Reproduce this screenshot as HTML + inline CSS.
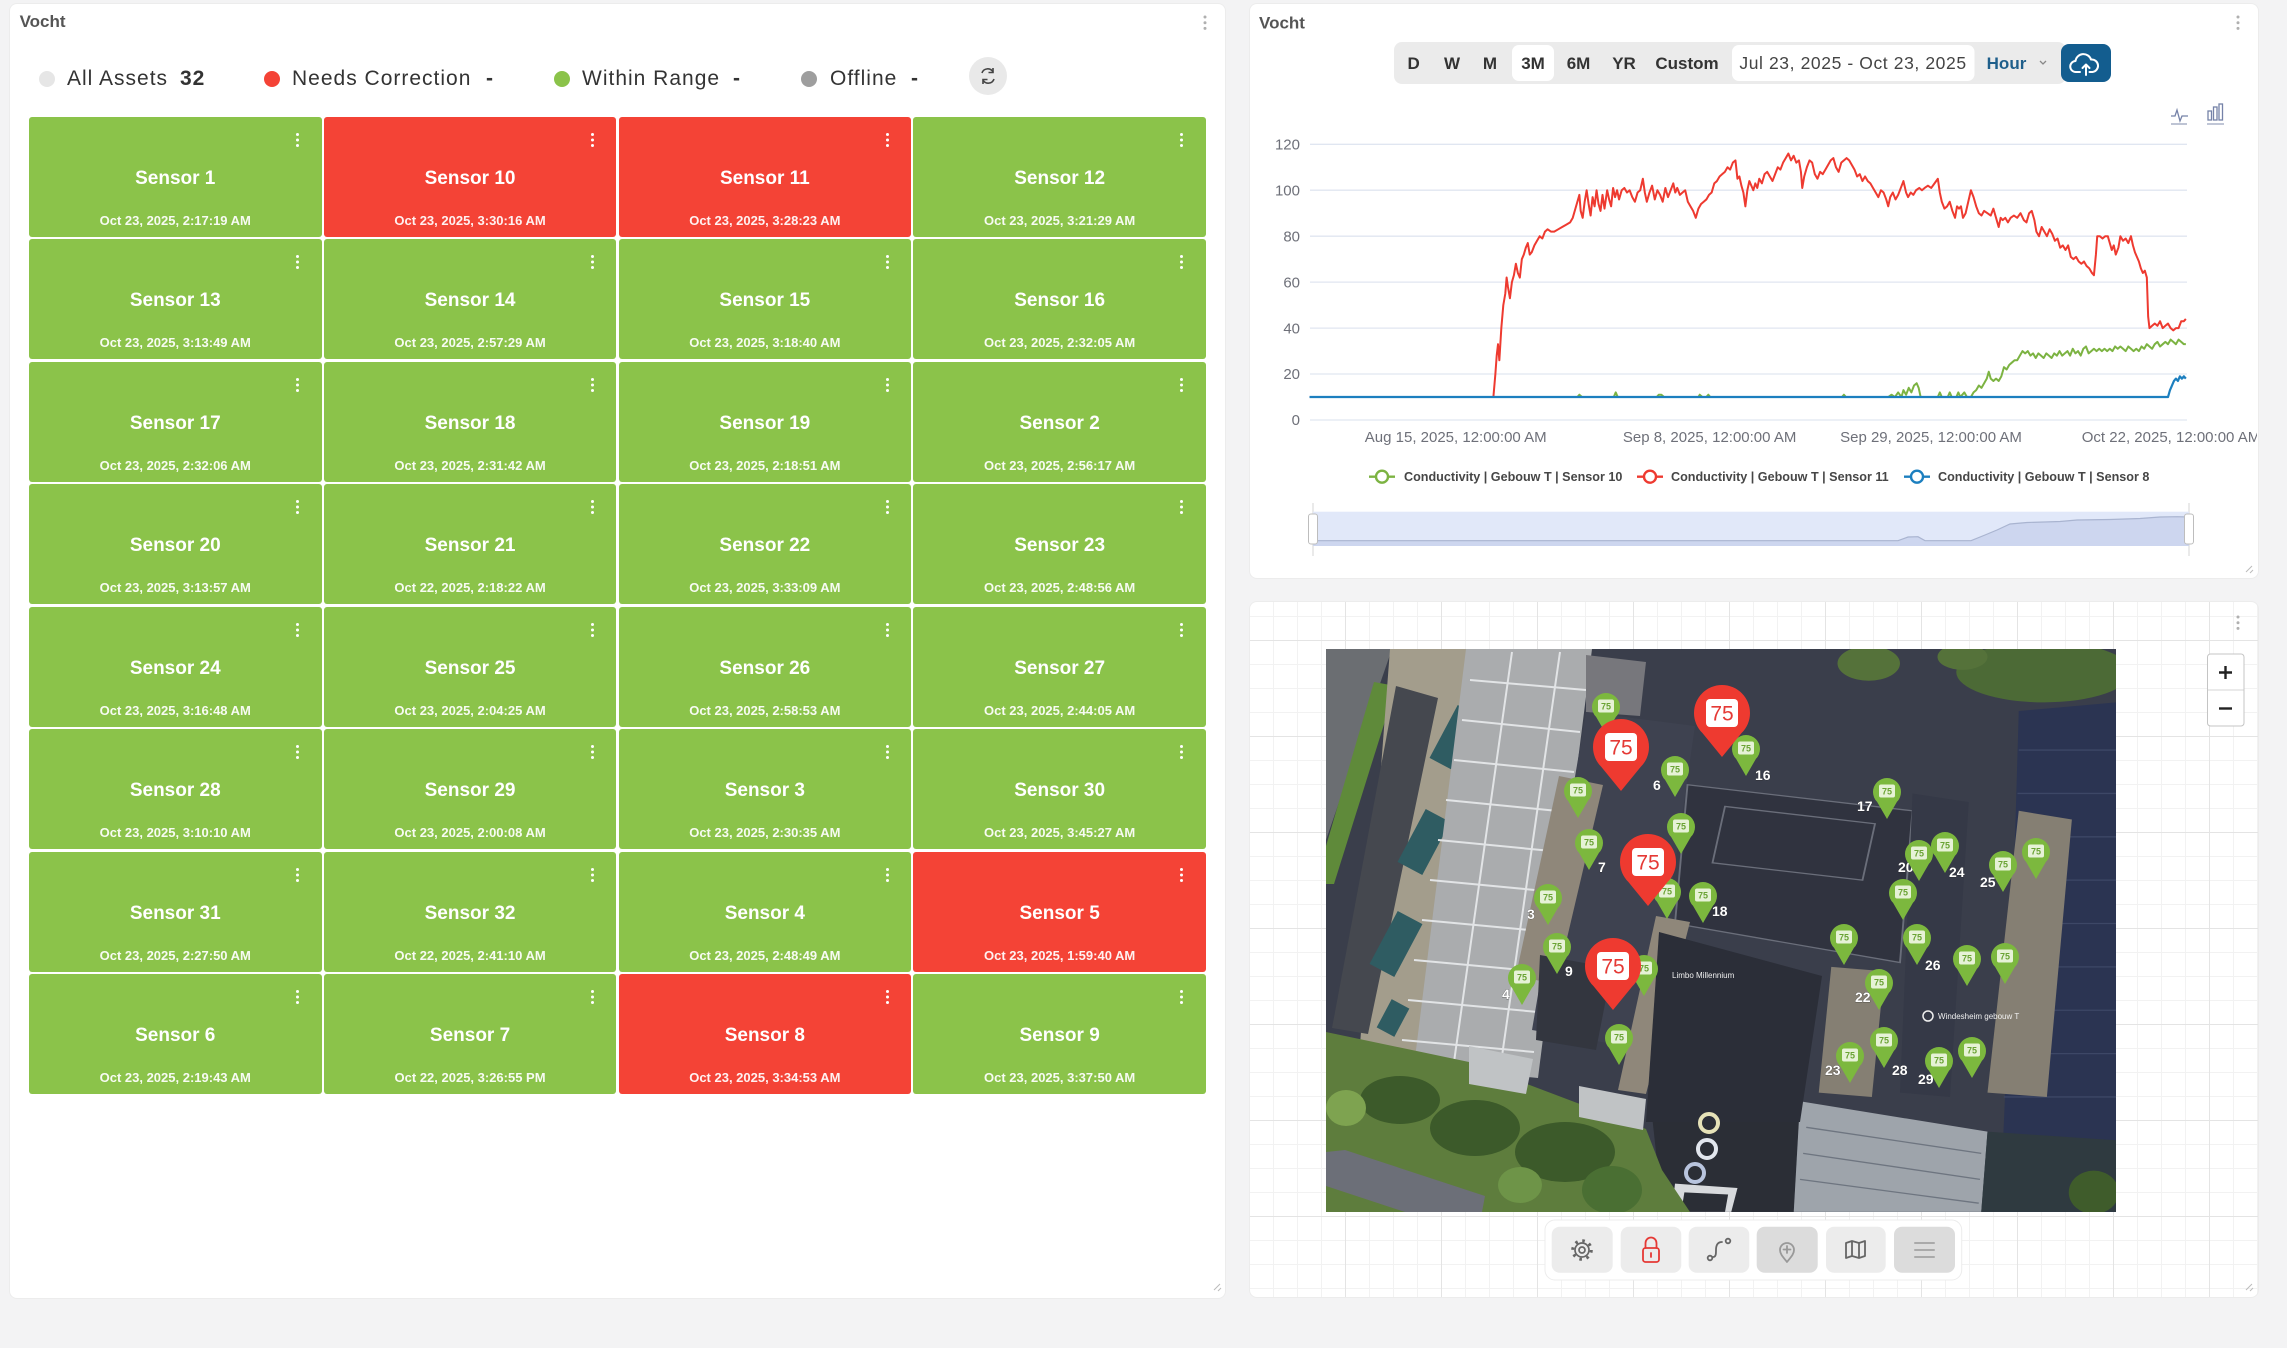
<!DOCTYPE html>
<html>
<head>
<meta charset="utf-8">
<style>
  html,body{margin:0;padding:0}
  body{width:2287px;height:1348px;background:#f3f3f4;position:relative;overflow:hidden;font-family:"Liberation Sans",sans-serif}
  .panel{position:absolute;background:#fff;border-radius:7px;box-shadow:0 0 0 1px #ececec}
  .grid{position:absolute;left:29px;top:116.7px;display:grid;grid-template-columns:repeat(4,292.5px);grid-auto-rows:120px;column-gap:2.3px;row-gap:2.5px}
  .t{position:relative;height:120px;border-radius:3px;background:#8bc34a;color:#fff}
  .t.r{background:#f44336}
  .t b{position:absolute;left:0;right:0;top:51px;text-align:center;font-size:19px;line-height:22px;font-weight:bold}
  .t i{position:absolute;left:0;right:0;top:96px;text-align:center;font-size:13px;font-style:normal;font-weight:bold;line-height:16px;color:rgba(255,255,255,0.93)}
  .t s{position:absolute;right:22.5px;top:16.3px;width:3px;height:3px;border-radius:50%;background:#fff;box-shadow:0 5.5px 0 #fff,0 11px 0 #fff}
  .lg{position:absolute;top:64px;line-height:30px;font-size:21px;letter-spacing:1px;color:#333;white-space:nowrap}
  .dot{position:absolute;top:71px;width:16px;height:16px;border-radius:50%}
</style>
</head>
<body>

<!-- LEFT PANEL -->
<div class="panel" style="left:10px;top:4px;width:1215px;height:1294px"></div>
<div style="position:absolute;left:19.6px;top:11px;font-size:17px;font-weight:bold;color:#555;line-height:22px">Vocht</div>

<div class="dot" style="left:39px;background:#e6e6e6"></div>
<div class="lg" style="left:67px">All Assets</div>
<div class="lg" style="left:180px;font-weight:bold">32</div>
<div class="dot" style="left:264px;background:#f44336"></div>
<div class="lg" style="left:292px">Needs Correction</div>
<div class="lg" style="left:486px;font-weight:bold">-</div>
<div class="dot" style="left:554px;background:#8bc34a"></div>
<div class="lg" style="left:582px">Within Range</div>
<div class="lg" style="left:733px;font-weight:bold">-</div>
<div class="dot" style="left:801px;background:#9e9e9e"></div>
<div class="lg" style="left:830px">Offline</div>
<div class="lg" style="left:911px;font-weight:bold">-</div>
<div style="position:absolute;left:969px;top:57px;width:38px;height:38px;border-radius:50%;background:#e9e9e9"></div>

<div class="grid">
<div class="t"><s></s><b>Sensor 1</b><i>Oct 23, 2025, 2:17:19 AM</i></div>
<div class="t r"><s></s><b>Sensor 10</b><i>Oct 23, 2025, 3:30:16 AM</i></div>
<div class="t r"><s></s><b>Sensor 11</b><i>Oct 23, 2025, 3:28:23 AM</i></div>
<div class="t"><s></s><b>Sensor 12</b><i>Oct 23, 2025, 3:21:29 AM</i></div>
<div class="t"><s></s><b>Sensor 13</b><i>Oct 23, 2025, 3:13:49 AM</i></div>
<div class="t"><s></s><b>Sensor 14</b><i>Oct 23, 2025, 2:57:29 AM</i></div>
<div class="t"><s></s><b>Sensor 15</b><i>Oct 23, 2025, 3:18:40 AM</i></div>
<div class="t"><s></s><b>Sensor 16</b><i>Oct 23, 2025, 2:32:05 AM</i></div>
<div class="t"><s></s><b>Sensor 17</b><i>Oct 23, 2025, 2:32:06 AM</i></div>
<div class="t"><s></s><b>Sensor 18</b><i>Oct 23, 2025, 2:31:42 AM</i></div>
<div class="t"><s></s><b>Sensor 19</b><i>Oct 23, 2025, 2:18:51 AM</i></div>
<div class="t"><s></s><b>Sensor 2</b><i>Oct 23, 2025, 2:56:17 AM</i></div>
<div class="t"><s></s><b>Sensor 20</b><i>Oct 23, 2025, 3:13:57 AM</i></div>
<div class="t"><s></s><b>Sensor 21</b><i>Oct 22, 2025, 2:18:22 AM</i></div>
<div class="t"><s></s><b>Sensor 22</b><i>Oct 23, 2025, 3:33:09 AM</i></div>
<div class="t"><s></s><b>Sensor 23</b><i>Oct 23, 2025, 2:48:56 AM</i></div>
<div class="t"><s></s><b>Sensor 24</b><i>Oct 23, 2025, 3:16:48 AM</i></div>
<div class="t"><s></s><b>Sensor 25</b><i>Oct 23, 2025, 2:04:25 AM</i></div>
<div class="t"><s></s><b>Sensor 26</b><i>Oct 23, 2025, 2:58:53 AM</i></div>
<div class="t"><s></s><b>Sensor 27</b><i>Oct 23, 2025, 2:44:05 AM</i></div>
<div class="t"><s></s><b>Sensor 28</b><i>Oct 23, 2025, 3:10:10 AM</i></div>
<div class="t"><s></s><b>Sensor 29</b><i>Oct 23, 2025, 2:00:08 AM</i></div>
<div class="t"><s></s><b>Sensor 3</b><i>Oct 23, 2025, 2:30:35 AM</i></div>
<div class="t"><s></s><b>Sensor 30</b><i>Oct 23, 2025, 3:45:27 AM</i></div>
<div class="t"><s></s><b>Sensor 31</b><i>Oct 23, 2025, 2:27:50 AM</i></div>
<div class="t"><s></s><b>Sensor 32</b><i>Oct 22, 2025, 2:41:10 AM</i></div>
<div class="t"><s></s><b>Sensor 4</b><i>Oct 23, 2025, 2:48:49 AM</i></div>
<div class="t r"><s></s><b>Sensor 5</b><i>Oct 23, 2025, 1:59:40 AM</i></div>
<div class="t"><s></s><b>Sensor 6</b><i>Oct 23, 2025, 2:19:43 AM</i></div>
<div class="t"><s></s><b>Sensor 7</b><i>Oct 22, 2025, 3:26:55 PM</i></div>
<div class="t r"><s></s><b>Sensor 8</b><i>Oct 23, 2025, 3:34:53 AM</i></div>
<div class="t"><s></s><b>Sensor 9</b><i>Oct 23, 2025, 3:37:50 AM</i></div>
</div>

<!-- RIGHT PANELS -->
<div class="panel" style="left:1250px;top:4px;width:1008px;height:574px"></div>
<div class="panel" style="left:1250px;top:602px;width:1008px;height:695px;
  background-color:#fff;
  background-image:
    linear-gradient(to right,#e4e4e4 1px,transparent 1px),
    linear-gradient(to bottom,#e4e4e4 1px,transparent 1px),
    linear-gradient(to right,#f2f2f2 1px,transparent 1px),
    linear-gradient(to bottom,#f2f2f2 1px,transparent 1px);
  background-size:96px 96px,96px 96px,24px 24px,24px 24px;
  background-position:95px 0,0 38px,23px 0,0 14px"></div>

<svg style="position:absolute;left:0;top:0" width="2287" height="1348" viewBox="0 0 2287 1348">
  <defs>
    <clipPath id="pclip"><rect x="1250" y="4" width="1007" height="574"/></clipPath>
    <clipPath id="mclip"><rect x="1326" y="649" width="790" height="563"/></clipPath>
    <path id="gp" d="M0,27 L-9.9,9.9 A14,14 0 1 1 9.9,9.9 Z"/>
    <path id="rp" d="M0,44 L-19.8,19.8 A28,28 0 1 1 19.8,19.8 Z"/>
  </defs>

  <!-- refresh icon (left panel) -->
  <g fill="none" stroke="#444" stroke-width="1.6">
    <path d="M982,73 a6,6 0 0 1 11,-1"/>
    <path d="M994,79 a6,6 0 0 1 -11,1"/>
    <path d="M993,68 v4.5 h-4.5" />
    <path d="M983,84 v-4.5 h4.5" />
  </g>
  <g fill="#b0b0b0"><circle cx="1205" cy="17" r="1.5"/><circle cx="1205" cy="22.7" r="1.5"/><circle cx="1205" cy="28.4" r="1.5"/></g>
  <path d="M1214,1290 l6,-6 M1218,1291 l3,-3" stroke="#bbb" stroke-width="1"/>

  <!-- ============ CHART PANEL ============ -->
  <text x="1259" y="28.5" font-size="17" font-weight="bold" fill="#555">Vocht</text>
  <g fill="#b0b0b0"><circle cx="2238" cy="17" r="1.5"/><circle cx="2238" cy="22.7" r="1.5"/><circle cx="2238" cy="28.4" r="1.5"/></g>

  <rect x="1394" y="42" width="672" height="42" rx="8" fill="#ebebeb"/>
  <rect x="1512" y="45" width="42" height="36" rx="7" fill="#fff"/>
  <rect x="1732" y="45" width="242.5" height="36" rx="7" fill="#fff"/>
  <g font-size="17" font-weight="bold" fill="#333" text-anchor="middle">
    <text x="1413.6" y="69">D</text>
    <text x="1452" y="69">W</text>
    <text x="1490" y="69">M</text>
    <text x="1533" y="69">3M</text>
    <text x="1578.5" y="69">6M</text>
    <text x="1624" y="69">YR</text>
    <text x="1687" y="69">Custom</text>
    <text x="2006.5" y="69" fill="#1f5f8b">Hour</text>
  </g>
  <text x="1853" y="69" font-size="17.5" letter-spacing="0.6" fill="#444" text-anchor="middle">Jul 23, 2025 - Oct 23, 2025</text>
  <path d="M2040,61 l3,3 l3,-3" fill="none" stroke="#888" stroke-width="1.3"/>
  <rect x="2061" y="44" width="50" height="38" rx="8" fill="#135d8f"/>
  <g fill="none" stroke="#fff" stroke-width="2" stroke-linecap="round" stroke-linejoin="round">
    <path d="M2080,72 h-4 a5.5,5.5 0 0 1 -0.5,-11 a8,8 0 0 1 15.5,-1.5 a5.5,5.5 0 0 1 1.5,12.5 h-3"/>
    <path d="M2086,75 v-10 M2082.5,68 l3.5,-3.5 l3.5,3.5"/>
  </g>

  <g fill="none" stroke="#7582a8" stroke-width="1.3">
    <path d="M2171,116 h4 l2,-6 l3,11 l2,-5 h6"/>
    <path d="M2171,124 h16" stroke="#9aa3bd"/>
    <rect x="2208" y="111" width="3.5" height="9"/>
    <rect x="2213.5" y="107" width="3.5" height="13"/>
    <rect x="2219" y="104" width="3.5" height="16"/>
    <path d="M2207,124 h17" stroke="#9aa3bd"/>
  </g>

  <g stroke="#e0e6f1" stroke-width="1.3">
    <line x1="1310" y1="144.3" x2="2187" y2="144.3"/>
    <line x1="1310" y1="190.2" x2="2187" y2="190.2"/>
    <line x1="1310" y1="236.2" x2="2187" y2="236.2"/>
    <line x1="1310" y1="282.1" x2="2187" y2="282.1"/>
    <line x1="1310" y1="328.1" x2="2187" y2="328.1"/>
    <line x1="1310" y1="374" x2="2187" y2="374"/>
    <line x1="1310" y1="420" x2="2187" y2="420"/>
  </g>
  <g font-size="15" fill="#6e7079" text-anchor="end">
    <text x="1300" y="149.5">120</text>
    <text x="1300" y="195.4">100</text>
    <text x="1300" y="241.4">80</text>
    <text x="1300" y="287.3">60</text>
    <text x="1300" y="333.3">40</text>
    <text x="1300" y="379.2">20</text>
    <text x="1300" y="425.2">0</text>
  </g>
  <g clip-path="url(#pclip)" font-size="15" fill="#6e7079" text-anchor="middle">
    <text x="1455.7" y="442">Aug 15, 2025, 12:00:00 AM</text>
    <text x="1709.6" y="442">Sep 8, 2025, 12:00:00 AM</text>
    <text x="1931" y="442">Sep 29, 2025, 12:00:00 AM</text>
    <text x="2171" y="442">Oct 22, 2025, 12:00:00 AM</text>
  </g>

  <g transform="translate(1250,420) scale(0.66138,-2.2975)" fill="none" stroke-linejoin="round">
    <polyline vector-effect="non-scaling-stroke" stroke="#7cb342" stroke-width="2" points="90,10 495,10 498,11 502,10 550,10 553,12 556,10 615,10 618,11 622,11 626,10 678,10 680,11 684,10 690,10 693,11 696,10 895,10 898,11 901,10 965,10 970,11 975,10 980,12 985,10 988,13 992,11 996,14 1000,12 1004,15 1008,16 1011,14 1014,10 1040,10 1043,12 1046,10 1055,10 1058,12 1061,10 1068,10 1071,12 1074,10 1080,12 1084,10 1090,10 1094,12 1098,13 1102,15 1106,14 1110,16 1114,18 1117,21 1120,18 1124,17 1128,18 1132,17 1136,19 1140,23 1144,22 1148,24 1152,25 1156,26 1160,26 1164,28 1168,30 1172,29 1176,30 1180,28 1184,29 1188,27 1192,29 1196,28 1200,27 1204,29 1208,28 1212,27 1216,29 1220,28 1224,30 1228,28 1232,29 1236,30 1240,28 1244,31 1248,29 1252,30 1256,28 1260,31 1264,32 1268,29 1272,30 1276,31 1280,30 1284,31 1288,30 1292,31 1296,30 1300,31 1304,30 1308,32 1312,31 1316,32 1320,31 1324,30 1328,32 1332,31 1336,30 1340,31 1344,30 1348,32 1352,31 1356,33 1360,32 1364,31 1368,33 1372,34 1376,32 1380,33 1384,34 1388,33 1392,35 1396,34 1400,33 1404,35 1408,34 1412,33 1415,33"/>
    <polyline vector-effect="non-scaling-stroke" stroke="#ee3a30" stroke-width="2" points="90,10 368,10 371,20 373,28 375,33 377,26 380,40 383,50 386,55 388,62 390,58 393,53 396,60 399,63 402,68 405,64 408,62 411,70 414,72 417,75 420,77 423,72 426,73 430,76 434,78 438,80 442,79 446,82 450,83 455,82 460,82 466,83 472,84 478,85 484,86 488,88 492,92 495,95 498,98 500,91 503,88 506,95 509,100 512,94 515,89 518,97 521,93 524,100 527,94 530,91 533,98 536,92 540,100 543,96 546,93 549,101 552,97 555,100 558,96 562,100 566,101 570,99 574,100 578,97 582,95 586,99 590,100 594,105 597,99 600,95 604,99 608,102 612,96 616,100 620,98 624,95 628,101 632,97 636,100 640,103 643,99 646,101 650,98 654,99 658,100 662,95 666,93 670,91 674,88 678,92 682,94 686,95 690,96 694,98 698,99 702,103 706,104 710,106 714,107 718,108 722,110 726,109 730,112 734,113 737,105 740,106 743,102 746,99 749,93 752,100 755,104 758,102 761,100 764,103 767,101 770,105 774,103 778,107 782,108 786,106 790,104 794,107 798,110 802,109 806,112 810,114 814,116 818,113 822,115 826,112 830,113 833,108 835,101 838,106 842,110 846,113 850,112 854,107 858,105 862,108 866,107 870,109 874,111 878,113 882,114 886,110 890,108 894,112 898,113 902,114 906,113 910,111 914,109 918,106 922,107 926,104 930,106 934,104 938,103 942,101 946,99 950,97 954,100 958,99 962,96 965,93 968,97 972,99 976,96 980,98 984,101 988,104 992,99 995,97 999,99 1003,98 1007,100 1012,101 1016,100 1020,101 1025,102 1030,101 1035,103 1040,105 1043,99 1046,95 1050,92 1054,93 1058,95 1062,91 1066,88 1069,93 1072,92 1075,93 1078,88 1082,90 1086,95 1090,100 1094,97 1098,93 1102,90 1106,89 1110,91 1115,90 1120,89 1124,92 1128,88 1132,84 1135,88 1138,87 1142,88 1146,86 1150,88 1155,89 1160,88 1165,90 1170,87 1174,86 1178,90 1182,91 1186,87 1189,82 1193,80 1197,84 1201,82 1205,80 1209,83 1213,81 1217,78 1221,79 1225,75 1229,76 1233,74 1237,76 1241,71 1245,70 1249,71 1253,69 1257,68 1261,69 1265,67 1269,66 1273,64 1276,63 1279,72 1281,80 1285,80 1289,79 1293,80 1297,80 1300,77 1303,74 1306,76 1309,72 1313,75 1316,80 1320,78 1324,79 1328,77 1332,80 1335,76 1338,73 1341,71 1344,69 1347,66 1350,64 1353,65 1356,62 1358,45 1360,40 1364,41 1368,42 1372,41 1376,43 1380,40 1384,41 1388,42 1392,40 1396,39 1400,40 1404,40 1408,43 1412,43 1415,44"/>
    <polyline vector-effect="non-scaling-stroke" stroke="#1c7fbf" stroke-width="2.2" points="90,10 1388,10 1391,13 1394,15 1397,17 1400,18 1403,17 1406,19 1409,18 1412,19 1415,18"/>
  </g>

  <g stroke-width="2.4" fill="#fff">
    <line x1="1369" y1="476.7" x2="1395" y2="476.7" stroke="#7cb342"/>
    <circle cx="1382" cy="476.7" r="6" stroke="#7cb342"/>
    <line x1="1637" y1="476.7" x2="1663" y2="476.7" stroke="#ee3a30"/>
    <circle cx="1650" cy="476.7" r="6" stroke="#ee3a30"/>
    <line x1="1904" y1="476.7" x2="1930" y2="476.7" stroke="#1c7fbf"/>
    <circle cx="1917" cy="476.7" r="6" stroke="#1c7fbf"/>
  </g>
  <g font-size="12.6" font-weight="bold" fill="#464646">
    <text x="1404" y="481.2">Conductivity | Gebouw T | Sensor 10</text>
    <text x="1671" y="481.2">Conductivity | Gebouw T | Sensor 11</text>
    <text x="1938" y="481.2">Conductivity | Gebouw T | Sensor 8</text>
  </g>

  <line x1="1313" y1="503" x2="1313" y2="556" stroke="#d6d6d6"/>
  <line x1="2189" y1="503" x2="2189" y2="556" stroke="#d6d6d6"/>
  <rect x="1313" y="511.7" width="876" height="34.3" fill="#e1e8f9"/>
  <path d="M1313,540.7 L1898,540.7 L1908,537 L1918,536.7 L1925,540.7 L1971,540.7 L1985,535 L1997,530 L2010,524 L2027,522.5 L2060,521.5 L2077,520 L2110,519.5 L2140,518.5 L2160,517 L2177,516.7 L2189,517 L2189,546 L1313,546 Z" fill="#cdd6ef" stroke="none"/>
  <path d="M1313,540.7 L1898,540.7 L1908,537 L1918,536.7 L1925,540.7 L1971,540.7 L1985,535 L1997,530 L2010,524 L2027,522.5 L2060,521.5 L2077,520 L2110,519.5 L2140,518.5 L2160,517 L2177,516.7 L2189,517" fill="none" stroke="#a9b4d0" stroke-width="1.2"/>
  <rect x="1308.5" y="514" width="9" height="30" rx="2.5" fill="#fff" stroke="#bdbdbd"/>
  <rect x="2184.5" y="514" width="9" height="30" rx="2.5" fill="#fff" stroke="#bdbdbd"/>
  <path d="M2246,572 l6,-6 M2250,573 l3,-3" stroke="#bbb" stroke-width="1"/>

  <!-- ============ MAP PANEL ============ -->
  <g fill="#b0b0b0"><circle cx="2238" cy="617" r="1.5"/><circle cx="2238" cy="622.7" r="1.5"/><circle cx="2238" cy="628.4" r="1.5"/></g>
  <path d="M2246,1290 l6,-6 M2250,1291 l3,-3" stroke="#bbb" stroke-width="1"/>

  <g clip-path="url(#mclip)">
    <rect x="1326" y="649" width="790" height="563" fill="#3a3e4b"/>
    <!-- right half (zoom-space coordinates) -->
    <g transform="translate(1300,620) scale(0.625,0.4336)">
      <ellipse cx="910" cy="100" rx="50" ry="40" fill="#55723a"/>
      <ellipse cx="1190" cy="120" rx="140" ry="70" fill="#4c6a36"/>
      <ellipse cx="1060" cy="85" rx="40" ry="30" fill="#55723a"/>
      <polygon points="620,380 980,440 960,790 600,700" fill="#30333f"/>
      <g stroke="#6a6e7a" stroke-width="3" fill="none">
        <path d="M620,380 L980,440 L960,790 L600,700 Z"/>
        <path d="M680,430 L920,470 L900,600 L660,560 Z"/>
      </g>
      <polygon points="1150,210 1306,190 1306,1365 1120,1365 1140,700" fill="#2b3452"/>
      <g stroke="#3d4766" stroke-width="3">
        <path d="M1150,300 H1306 M1148,400 H1306 M1146,500 H1306 M1144,600 H1306 M1140,700 H1306 M1138,800 H1306 M1134,900 H1306 M1130,1000 H1306 M1126,1100 H1306"/>
      </g>
      <polygon points="1150,440 1235,460 1195,1100 1100,1090" fill="#857f73"/>
      <polygon points="980,400 1070,420 1040,1100 960,1090" fill="#353947"/>
      <polygon points="850,800 935,810 915,1100 830,1090" fill="#857f73"/>
      <polygon points="560,1100 800,1110 790,1365 580,1365" fill="#2b2e36"/>
      <polygon points="600,1300 700,1310 690,1365 595,1365" fill="#d8dadd"/>
      <polygon points="615,1320 685,1325 680,1365 610,1365" fill="#2b2e36"/>
      <polygon points="800,1110 1100,1180 1090,1365 790,1365" fill="#9ea4ab"/>
      <g stroke="#6e7580" stroke-width="3"><path d="M810,1170 L1090,1230 M805,1230 L1088,1290 M800,1290 L1086,1345"/></g>
      <polygon points="1100,1180 1306,1200 1306,1365 1090,1365" fill="#2f3a40"/>
      <ellipse cx="1270" cy="1320" rx="40" ry="50" fill="#3f5c2b"/>
    </g>

    <!-- left half (page coordinates) -->
    <polygon points="1326,649 1392,649 1326,840" fill="#6b6e72"/>
    <polygon points="1374,682 1396,686 1334,884 1326,884 1326,846" fill="#5f8a3a"/>
    <polygon points="1390,649 1530,649 1420,1060 1360,1045" fill="#a39d8c"/>
    <polygon points="1396,686 1438,698 1368,1034 1332,1028" fill="#45484f"/>
    <g fill="#2f5c62">
      <rect x="-14" y="-30" width="28" height="60" transform="translate(1456,738) rotate(28)"/>
      <rect x="-14" y="-30" width="28" height="60" transform="translate(1424,842) rotate(28)"/>
      <rect x="-14" y="-30" width="28" height="60" transform="translate(1396,944) rotate(28)"/>
      <rect x="-10" y="-16" width="20" height="32" transform="translate(1393,1018) rotate(28)"/>
    </g>
    <polygon points="1466,649 1592,649 1538,1078 1414,1066" fill="#aaacae"/>
    <g stroke="#e2e4e6" stroke-width="2" fill="none">
      <path d="M1470,680 L1586,690 M1462,720 L1580,732 M1454,760 L1574,772 M1446,800 L1568,812 M1438,840 L1562,852 M1430,880 L1556,892 M1422,920 L1550,932 M1414,960 L1544,972 M1408,1000 L1538,1012 M1402,1040 L1534,1052"/>
      <path d="M1512,652 L1454,1062 M1560,652 L1500,1070"/>
    </g>
    <polygon points="1586,655 1646,662 1640,716 1586,712" fill="#77777c"/>
    <polygon points="1586,712 1695,726 1648,1050 1532,1030" fill="#3e4250"/>
    <polygon points="1559,776 1603,785 1556,985 1516,975" fill="#8f877a"/>
    <polygon points="1656,916 1690,922 1646,1094 1618,1090" fill="#8f877a"/>
    <polygon points="1540,955 1612,968 1596,1050 1536,1040" fill="#33363f"/>
    <polygon points="1659,932 1822,976 1800,1122 1646,1122" fill="#2b2e38"/>
    <polygon points="1326,1032 1469,1062 1646,1129 1662,1170 1690,1212 1326,1212" fill="#5e7d3d"/>
    <polygon points="1469,1046 1533,1059 1526,1094 1469,1084" fill="#c0c3c5"/>
    <polygon points="1579,1086 1646,1099 1643,1130 1579,1117" fill="#c0c3c5"/>
    <polygon points="1326,1152 1345,1150 1485,1196 1482,1212 1405,1212 1326,1186" fill="#6c6f78"/>
    <ellipse cx="1400" cy="1100" rx="40" ry="24" fill="#3c5a2a"/>
    <ellipse cx="1475" cy="1128" rx="45" ry="28" fill="#3c5a2a"/>
    <ellipse cx="1565" cy="1152" rx="50" ry="30" fill="#3c5a2a"/>
    <ellipse cx="1612" cy="1190" rx="30" ry="24" fill="#4a6f33"/>
    <ellipse cx="1346" cy="1108" rx="20" ry="18" fill="#7ea350"/>
    <ellipse cx="1520" cy="1185" rx="22" ry="18" fill="#6e9448"/>

    <g fill="none" stroke-width="4">
      <circle cx="1709" cy="1123" r="9" stroke="#e6e2b8"/>
      <circle cx="1707" cy="1149" r="9" stroke="#e2e6ee"/>
      <circle cx="1695" cy="1173" r="9" stroke="#b8c4de"/>
    </g>
    <g font-size="8" fill="#f0f0f0">
      <text x="1672" y="978">Limbo Millennium</text>
      <circle cx="1928" cy="1016" r="5" fill="none" stroke="#eee" stroke-width="1.5"/>
      <text x="1938" y="1019">Windesheim gebouw T</text>
    </g>

    <g font-size="14" font-weight="bold" fill="#fff" stroke="#222" stroke-width="0.4" paint-order="stroke">
      <text x="1653" y="790">6</text><text x="1755" y="780">16</text><text x="1857" y="811">17</text>
      <text x="1598" y="872">7</text><text x="1712" y="916">18</text><text x="1527" y="919">3</text>
      <text x="1898" y="872">20</text><text x="1949" y="877">24</text><text x="1980" y="887">25</text>
      <text x="1925" y="970">26</text><text x="1565" y="976">9</text><text x="1502" y="999">4</text>
      <text x="1855" y="1002">22</text><text x="1825" y="1075">23</text><text x="1892" y="1075">28</text>
      <text x="1918" y="1084">29</text>
    </g>

    <g font-size="9" font-weight="bold" text-anchor="middle">
      <g transform="translate(1606,707)"><use href="#gp" fill="#7cb83e"/><rect x="-8" y="-7.5" width="16" height="13" rx="2" fill="#e6f2d6"/><text y="2.5" fill="#6aa334">75</text></g>
      <g transform="translate(1746,749)"><use href="#gp" fill="#7cb83e"/><rect x="-8" y="-7.5" width="16" height="13" rx="2" fill="#e6f2d6"/><text y="2.5" fill="#6aa334">75</text></g>
      <g transform="translate(1675,770)"><use href="#gp" fill="#7cb83e"/><rect x="-8" y="-7.5" width="16" height="13" rx="2" fill="#e6f2d6"/><text y="2.5" fill="#6aa334">75</text></g>
      <g transform="translate(1578,791)"><use href="#gp" fill="#7cb83e"/><rect x="-8" y="-7.5" width="16" height="13" rx="2" fill="#e6f2d6"/><text y="2.5" fill="#6aa334">75</text></g>
      <g transform="translate(1887,792)"><use href="#gp" fill="#7cb83e"/><rect x="-8" y="-7.5" width="16" height="13" rx="2" fill="#e6f2d6"/><text y="2.5" fill="#6aa334">75</text></g>
      <g transform="translate(1681,827)"><use href="#gp" fill="#7cb83e"/><rect x="-8" y="-7.5" width="16" height="13" rx="2" fill="#e6f2d6"/><text y="2.5" fill="#6aa334">75</text></g>
      <g transform="translate(1589,843)"><use href="#gp" fill="#7cb83e"/><rect x="-8" y="-7.5" width="16" height="13" rx="2" fill="#e6f2d6"/><text y="2.5" fill="#6aa334">75</text></g>
      <g transform="translate(1919,854)"><use href="#gp" fill="#7cb83e"/><rect x="-8" y="-7.5" width="16" height="13" rx="2" fill="#e6f2d6"/><text y="2.5" fill="#6aa334">75</text></g>
      <g transform="translate(1945,846)"><use href="#gp" fill="#7cb83e"/><rect x="-8" y="-7.5" width="16" height="13" rx="2" fill="#e6f2d6"/><text y="2.5" fill="#6aa334">75</text></g>
      <g transform="translate(2003,865)"><use href="#gp" fill="#7cb83e"/><rect x="-8" y="-7.5" width="16" height="13" rx="2" fill="#e6f2d6"/><text y="2.5" fill="#6aa334">75</text></g>
      <g transform="translate(2036,852)"><use href="#gp" fill="#7cb83e"/><rect x="-8" y="-7.5" width="16" height="13" rx="2" fill="#e6f2d6"/><text y="2.5" fill="#6aa334">75</text></g>
      <g transform="translate(1548,898)"><use href="#gp" fill="#7cb83e"/><rect x="-8" y="-7.5" width="16" height="13" rx="2" fill="#e6f2d6"/><text y="2.5" fill="#6aa334">75</text></g>
      <g transform="translate(1667,892)"><use href="#gp" fill="#7cb83e"/><rect x="-8" y="-7.5" width="16" height="13" rx="2" fill="#e6f2d6"/><text y="2.5" fill="#6aa334">75</text></g>
      <g transform="translate(1703,896)"><use href="#gp" fill="#7cb83e"/><rect x="-8" y="-7.5" width="16" height="13" rx="2" fill="#e6f2d6"/><text y="2.5" fill="#6aa334">75</text></g>
      <g transform="translate(1903,893)"><use href="#gp" fill="#7cb83e"/><rect x="-8" y="-7.5" width="16" height="13" rx="2" fill="#e6f2d6"/><text y="2.5" fill="#6aa334">75</text></g>
      <g transform="translate(1844,938)"><use href="#gp" fill="#7cb83e"/><rect x="-8" y="-7.5" width="16" height="13" rx="2" fill="#e6f2d6"/><text y="2.5" fill="#6aa334">75</text></g>
      <g transform="translate(1917,938)"><use href="#gp" fill="#7cb83e"/><rect x="-8" y="-7.5" width="16" height="13" rx="2" fill="#e6f2d6"/><text y="2.5" fill="#6aa334">75</text></g>
      <g transform="translate(1557,947)"><use href="#gp" fill="#7cb83e"/><rect x="-8" y="-7.5" width="16" height="13" rx="2" fill="#e6f2d6"/><text y="2.5" fill="#6aa334">75</text></g>
      <g transform="translate(1967,959)"><use href="#gp" fill="#7cb83e"/><rect x="-8" y="-7.5" width="16" height="13" rx="2" fill="#e6f2d6"/><text y="2.5" fill="#6aa334">75</text></g>
      <g transform="translate(2005,957)"><use href="#gp" fill="#7cb83e"/><rect x="-8" y="-7.5" width="16" height="13" rx="2" fill="#e6f2d6"/><text y="2.5" fill="#6aa334">75</text></g>
      <g transform="translate(1644,969)"><use href="#gp" fill="#7cb83e"/><rect x="-8" y="-7.5" width="16" height="13" rx="2" fill="#e6f2d6"/><text y="2.5" fill="#6aa334">75</text></g>
      <g transform="translate(1522,978)"><use href="#gp" fill="#7cb83e"/><rect x="-8" y="-7.5" width="16" height="13" rx="2" fill="#e6f2d6"/><text y="2.5" fill="#6aa334">75</text></g>
      <g transform="translate(1879,983)"><use href="#gp" fill="#7cb83e"/><rect x="-8" y="-7.5" width="16" height="13" rx="2" fill="#e6f2d6"/><text y="2.5" fill="#6aa334">75</text></g>
      <g transform="translate(1619,1038)"><use href="#gp" fill="#7cb83e"/><rect x="-8" y="-7.5" width="16" height="13" rx="2" fill="#e6f2d6"/><text y="2.5" fill="#6aa334">75</text></g>
      <g transform="translate(1884,1041)"><use href="#gp" fill="#7cb83e"/><rect x="-8" y="-7.5" width="16" height="13" rx="2" fill="#e6f2d6"/><text y="2.5" fill="#6aa334">75</text></g>
      <g transform="translate(1850,1056)"><use href="#gp" fill="#7cb83e"/><rect x="-8" y="-7.5" width="16" height="13" rx="2" fill="#e6f2d6"/><text y="2.5" fill="#6aa334">75</text></g>
      <g transform="translate(1972,1051)"><use href="#gp" fill="#7cb83e"/><rect x="-8" y="-7.5" width="16" height="13" rx="2" fill="#e6f2d6"/><text y="2.5" fill="#6aa334">75</text></g>
      <g transform="translate(1939,1061)"><use href="#gp" fill="#7cb83e"/><rect x="-8" y="-7.5" width="16" height="13" rx="2" fill="#e6f2d6"/><text y="2.5" fill="#6aa334">75</text></g>
    </g>
    <g font-size="21" text-anchor="middle">
      <g transform="translate(1621,747)"><use href="#rp" fill="#ee3a30"/><rect x="-16" y="-14" width="32" height="28" rx="4" fill="#fff"/><text y="7.5" fill="#e53935">75</text></g>
      <g transform="translate(1722,713)"><use href="#rp" fill="#ee3a30"/><rect x="-16" y="-14" width="32" height="28" rx="4" fill="#fff"/><text y="7.5" fill="#e53935">75</text></g>
      <g transform="translate(1648,862)"><use href="#rp" fill="#ee3a30"/><rect x="-16" y="-14" width="32" height="28" rx="4" fill="#fff"/><text y="7.5" fill="#e53935">75</text></g>
      <g transform="translate(1613,966)"><use href="#rp" fill="#ee3a30"/><rect x="-16" y="-14" width="32" height="28" rx="4" fill="#fff"/><text y="7.5" fill="#e53935">75</text></g>
    </g>
  </g>

  <rect x="2207.5" y="654" width="36.5" height="72" rx="3" fill="#fff" stroke="#c4c4c4"/>
  <line x1="2208" y1="690" x2="2243.5" y2="690" stroke="#d4d4d4"/>
  <path d="M2219,672.5 h13 M2225.5,666 v13" stroke="#222" stroke-width="2.4"/>
  <path d="M2219,708.5 h13" stroke="#222" stroke-width="2.4"/>

  <rect x="1545" y="1220" width="416.7" height="60" rx="10" fill="#fff" stroke="#ececec"/>
  <rect x="1551.7" y="1226.7" width="61" height="46" rx="8" fill="#ececec"/>
  <rect x="1620.7" y="1226.7" width="60.6" height="46" rx="8" fill="#ececec"/>
  <rect x="1688.7" y="1226.7" width="60.6" height="46" rx="8" fill="#ececec"/>
  <rect x="1756.7" y="1226.7" width="61" height="46" rx="8" fill="#dcdcdc"/>
  <rect x="1826" y="1226.7" width="59.7" height="46" rx="8" fill="#ececec"/>
  <rect x="1894" y="1226.7" width="61" height="46" rx="8" fill="#dcdcdc"/>
  <g fill="none" stroke-width="1.8" stroke-linecap="round" stroke-linejoin="round">
    <circle cx="1582" cy="1250" r="9.3" stroke="#666" stroke-dasharray="2.6 4.7" stroke-width="3" stroke-linecap="butt"/>
    <circle cx="1582" cy="1250" r="7" stroke="#666" stroke-width="1.7"/>
    <circle cx="1582" cy="1250" r="3" stroke="#666" stroke-width="1.7"/>
    <rect x="1643" y="1248" width="16" height="14" rx="2.5" stroke="#e53935"/>
    <path d="M1645.5,1248 v-5 a5.5,5.5 0 0 1 11,0 v5" stroke="#e53935"/>
    <path d="M1651,1253 v4" stroke="#e53935"/>
    <circle cx="1710" cy="1258" r="2.3" stroke="#666"/>
    <circle cx="1728" cy="1241" r="2.3" stroke="#666"/>
    <path d="M1713,1257 c3,0 3,-3 3,-7 c0,-5 2,-8 6,-8" stroke="#666"/>
    <path d="M1787,1262 c-4,-5 -7,-8 -7,-12 a7,7 0 0 1 14,0 c0,4 -3,7 -7,12 z" stroke="#999"/>
    <path d="M1787,1246 v7 M1783.5,1249.5 h7" stroke="#999"/>
    <path d="M1846,1243 l6,-2 l7,2 l6,-2 v15 l-6,2 l-7,-2 l-6,2 z M1852,1241 v15 M1859,1243 v15" stroke="#666"/>
    <path d="M1915,1243 h19 M1915,1250 h19 M1915,1257 h19" stroke="#aaa" stroke-width="2"/>
  </g>
</svg>
</body>
</html>
